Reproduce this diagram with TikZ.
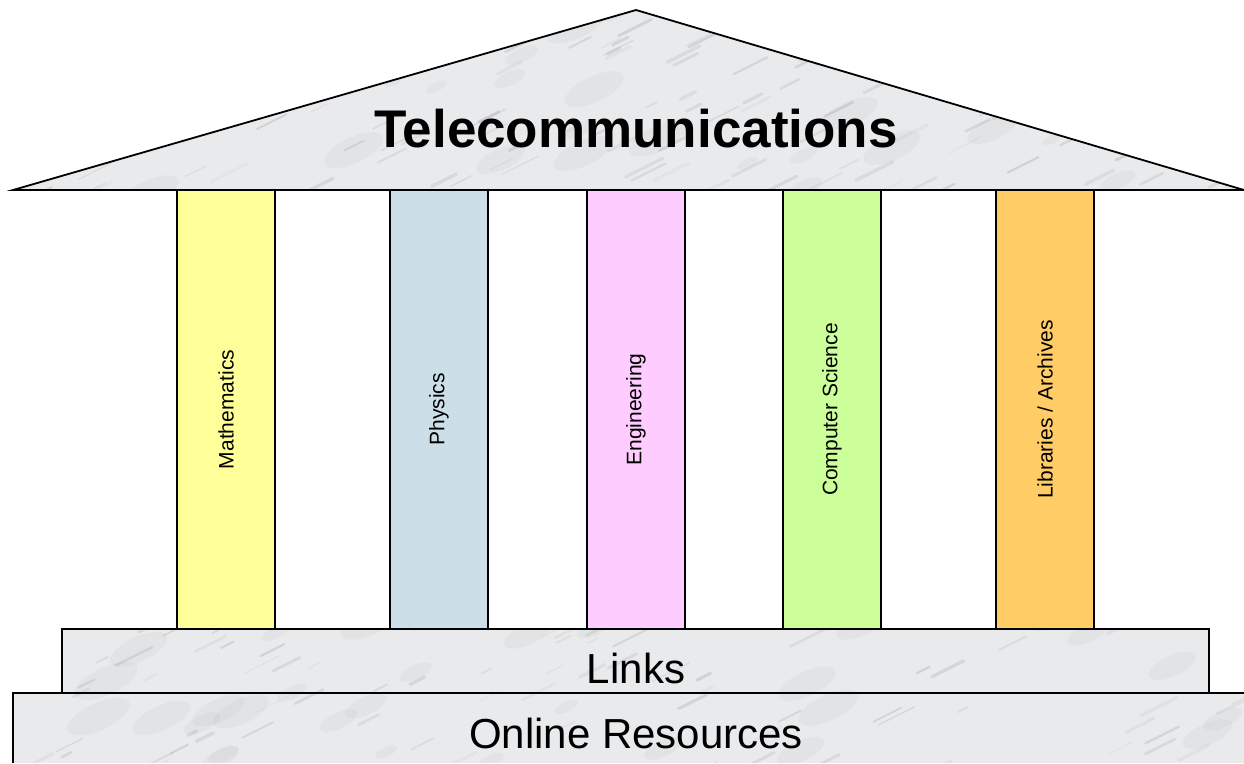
\documentclass[tikz,border=0pt]{standalone}
\usepackage{fontspec}
\setmainfont{Liberation Sans}
\definecolor{marblebase}{RGB}{232,234,236}
\definecolor{marbledark}{RGB}{140,142,148}
\definecolor{mathcol}{RGB}{255,255,153}
\definecolor{physcol}{RGB}{204,222,232}
\definecolor{engcol}{RGB}{255,204,255}
\definecolor{cscol}{RGB}{204,255,153}
\definecolor{libcol}{RGB}{255,204,102}
\begin{document}
\begin{tikzpicture}[x=1pt,y=-1pt,
  outline/.style={draw=black,line width=1.8pt,line join=miter},
  pillar/.style={draw=black,line width=1.5pt,rotate=90,minimum width=439pt,minimum height=98pt,inner sep=0pt,
     font=\fontsize{21}{25}\selectfont},
  slabtext/.style={font=\fontsize{42}{48}\selectfont,inner sep=0pt},
  titletext/.style={font=\bfseries\fontsize{53}{60}\selectfont,inner sep=0pt},
  streak/.style={marbledark,line cap=round}]
\useasboundingbox (0,0) rectangle (1244,763);
% marble fill
\fill[marblebase] (13,190) -- (636,10) -- (1244,190) -- cycle;
\fill[marblebase] (62,629) rectangle (1209,693);
\fill[marblebase] (13,693) rectangle (1244,763);
\begin{scope}
  \clip (13,190) -- (636,10) -- (1244,190) -- cycle
        (62,629) rectangle (1209,693)
        (13,693) rectangle (1244,763);
  \pgfmathsetseed{7}
  \foreach \i in {1,...,160}{
    \pgfmathsetmacro\px{rnd*1260}
    \pgfmathsetmacro\py{rnd*780}
    \pgfmathsetmacro\rr{10+25*rnd}
    \fill[marbledark,opacity=0.07,rotate around={25:(\px,\py)}] (\px,\py) ellipse ({\rr pt} and {0.4*\rr pt});
  }
  \foreach \i in {1,...,500}{
    \pgfmathsetmacro\px{rnd*1260}
    \pgfmathsetmacro\py{rnd*780}
    \pgfmathsetmacro\op{0.06+0.2*rnd}
    \pgfmathsetmacro\ln{8+30*rnd}
    \pgfmathsetmacro\lw{1+2.5*rnd}
    \draw[streak,opacity=\op,line width=\lw pt] (\px,\py) -- ++(\ln,-0.5*\ln);
  }
\end{scope}
% outlines
\draw[outline] (13,190) -- (636,10) -- (1244,190) -- cycle;
\draw[outline] (62,693) -- (62,629) -- (1209,629) -- (1209,693);
\draw[outline] (13,763) -- (13,693) -- (1244,693);
% pillars
\node[pillar,fill=mathcol] (math) at (226,409.5) {Mathematics};
\node[pillar,fill=physcol] (phys) at (439,409.5) {Physics};
\node[pillar,fill=engcol]  (eng)  at (636,409.5) {Engineering};
\node[pillar,fill=cscol]   (cs)   at (832,409.5) {Computer Science};
\node[pillar,fill=libcol]  (lib)  at (1045,409.5) {Libraries / Archives};
% texts
\node[titletext] (title) at (636,129) {Telecommunications};
\node[slabtext] (links) at (636,668) {Links};
\node[slabtext] (online) at (636,733) {Online Resources};
\end{tikzpicture}
\end{document}
